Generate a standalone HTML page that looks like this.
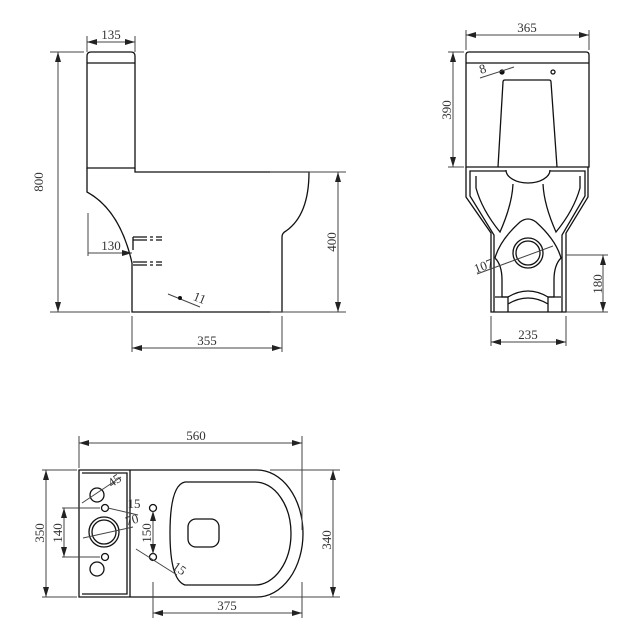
<!DOCTYPE html>
<html><head><meta charset="utf-8"><style>
html,body{margin:0;padding:0;background:#fff;}
svg{display:block;}
text{font-family:"Liberation Serif",serif;font-size:13px;fill:#333;}
</style></head><body>
<svg width="643" height="643" viewBox="0 0 643 643" xmlns="http://www.w3.org/2000/svg">
<defs>
<marker id="a" viewBox="0 0 10 6" refX="10" refY="3" markerWidth="10" markerHeight="6" orient="auto-start-reverse" markerUnits="userSpaceOnUse"><path d="M0,0 L10,3 L0,6 z" fill="#222"/></marker>
</defs>
<g fill="none" stroke="#111" stroke-width="1.3">
<!-- side view -->
<path d="M87,168 L87,56 Q87,52 91,52 L131,52 Q135,52 135,56 L135,168 Z"/>
<line x1="87" y1="63" x2="135" y2="63"/>
<path d="M87,168 L87,192 Q120,210 132,263 L132,312 L282,312 L282,237 Q282,233 286,231 Q309,215 309,172 L135,172 L135,168"/>
<path d="M133,237 L133,250 M133,237 L162,237 M133,240 L162,240 M133,265 L162,265 M133,262 L162,262" stroke-dasharray="14,3,3,3"/>
<!-- front view -->
<path d="M466,167 L466,55 Q466,52 469,52 L586,52 Q589,52 589,55 L589,167 Z"/>
<line x1="466" y1="63" x2="589" y2="63"/>
<path d="M498,167 L503,82 Q503,80 505,80 L549,80 Q551,80 551,82 L557,167"/>
<path d="M466,167 L466,197 L491,233 L491,312 L566,312 L566,233 L588,197 L588,167"/>
<path d="M506,171 L470,171 L470,196 L494,235 L494,312 M550,171 L585,171 L585,196 L562,235 L562,312"/>
<path d="M506,170 A22,13 0 0 0 550,170"/>
<path d="M476,176 L476,188 Q482,210 500,232 Q512,205 513,184"/>
<path d="M580,176 L580,188 Q574,210 556,232 Q544,205 543,184"/>
<path d="M495,258 Q500,240 520,222 Q528,216 536,222 Q556,240 561,258 Q554,265 554,280 L554,297 L548,297 Q528,285 508,297 L502,297 L502,280 Q502,265 495,258"/>
<path d="M495,297 L508,297 L508,312 M561,297 L548,297 L548,312 M508,304 Q528,292 548,304"/>
<circle cx="528" cy="253" r="15"/><circle cx="528" cy="253" r="12"/>
<circle cx="502" cy="72" r="2" fill="#111"/><circle cx="553" cy="72" r="2"/>
<!-- plan view -->
<path d="M79,470 L257,470 A46,63.5 0 0 1 257,597 L79,597 Z"/>
<path d="M130,470 L130,597 M82,473 L127,473 L127,594 L82,594"/>
<path d="M185,482 L255,482 A36,51.5 0 0 1 255,585 L185,585 Q170,580 170,533 Q170,485 185,482 Z"/>
<rect x="188" y="519" width="31" height="28" rx="8"/>
<circle cx="97" cy="495" r="7"/><circle cx="97" cy="569" r="7"/>
<circle cx="104" cy="532" r="15"/><circle cx="104" cy="532" r="12"/>
<circle cx="105" cy="508" r="3.5"/><circle cx="105" cy="557" r="3.5"/>
<circle cx="153" cy="508" r="3.5"/><circle cx="153" cy="557" r="3.5"/>
</g>
<g fill="none" stroke="#444" stroke-width="1">
<!-- side dims -->
<path d="M87,36 L87,52 M135,36 L135,52 M50,52 L84,52 M50,312 L130,312 M270,172 L346,172 M270,312 L346,312 M88,213 L88,256 M132,316 L132,352 M282,316 L282,352"/>
<line x1="87" y1="42" x2="135" y2="42" marker-start="url(#a)" marker-end="url(#a)"/>
<line x1="58" y1="52" x2="58" y2="312" marker-start="url(#a)" marker-end="url(#a)"/>
<line x1="88" y1="253" x2="132" y2="253" marker-end="url(#a)"/>
<line x1="338" y1="172" x2="338" y2="312" marker-start="url(#a)" marker-end="url(#a)"/>
<line x1="132" y1="348" x2="282" y2="348" marker-start="url(#a)" marker-end="url(#a)"/>
<line x1="168" y1="294" x2="200" y2="307"/>
<!-- front dims -->
<path d="M466,30 L466,50 M589,30 L589,50 M448,52 L464,52 M448,167 L464,167 M566,255 L608,255 M566,312 L608,312 M491,316 L491,346 M566,316 L566,346"/>
<line x1="466" y1="35" x2="589" y2="35" marker-start="url(#a)" marker-end="url(#a)"/>
<line x1="453" y1="52" x2="453" y2="167" marker-start="url(#a)" marker-end="url(#a)"/>
<line x1="603" y1="255" x2="603" y2="312" marker-start="url(#a)" marker-end="url(#a)"/>
<line x1="491" y1="342" x2="566" y2="342" marker-start="url(#a)" marker-end="url(#a)"/>
<line x1="477" y1="274" x2="553" y2="246"/>
<line x1="480" y1="78" x2="514" y2="67"/>
<!-- plan dims -->
<path d="M79,436 L79,468 M302,436 L302,530 M42,470 L77,470 M42,597 L77,597 M270,470 L340,470 M270,597 L340,597 M62,508 L100,508 M62,557 L100,557 M153,582 L153,618 M302,582 L302,618"/>
<line x1="79" y1="443" x2="302" y2="443" marker-start="url(#a)" marker-end="url(#a)"/>
<line x1="46" y1="470" x2="46" y2="597" marker-start="url(#a)" marker-end="url(#a)"/>
<line x1="64" y1="508" x2="64" y2="557" marker-start="url(#a)" marker-end="url(#a)"/>
<line x1="153" y1="511" x2="153" y2="554" marker-start="url(#a)" marker-end="url(#a)"/>
<line x1="333" y1="470" x2="333" y2="597" marker-start="url(#a)" marker-end="url(#a)"/>
<line x1="153" y1="613" x2="302" y2="613" marker-start="url(#a)" marker-end="url(#a)"/>
<line x1="82" y1="503" x2="121" y2="477"/>
<line x1="108" y1="508" x2="138" y2="515"/>
<line x1="83" y1="538" x2="133" y2="527"/>
<line x1="136" y1="549" x2="177" y2="575"/>
</g>
<circle cx="180" cy="298" r="2" fill="#111"/>
<g text-anchor="middle">
<text x="111" y="39">135</text>
<text x="0" y="0" transform="translate(43,182) rotate(-90)">800</text>
<text x="111" y="250">130</text>
<text x="0" y="0" transform="translate(198,302) rotate(22)">11</text>
<text x="0" y="0" transform="translate(336,242) rotate(-90)">400</text>
<text x="207" y="345">355</text>
<text x="527" y="32">365</text>
<text x="0" y="0" transform="translate(451,110) rotate(-90)">390</text>
<text x="0" y="0" transform="translate(484,73) rotate(-18)">8</text>
<text x="0" y="0" transform="translate(485,270) rotate(-20)">107</text>
<text x="0" y="0" transform="translate(602,284) rotate(-90)">180</text>
<text x="528" y="339">235</text>
<text x="196" y="440">560</text>
<text x="0" y="0" transform="translate(44,533) rotate(-90)">350</text>
<text x="0" y="0" transform="translate(62,533) rotate(-90)">140</text>
<text x="0" y="0" transform="translate(151,533) rotate(-90)">150</text>
<text x="0" y="0" transform="translate(331,540) rotate(-90)">340</text>
<text x="227" y="610">375</text>
<text x="0" y="0" transform="translate(117,484) rotate(-35)">45</text>
<text x="134" y="508" font-size="11">15</text>
<text x="0" y="0" transform="translate(133,524) rotate(-15)">70</text>
<text x="0" y="0" transform="translate(177,572) rotate(35)">15</text>
</g>
</svg>
</body></html>
